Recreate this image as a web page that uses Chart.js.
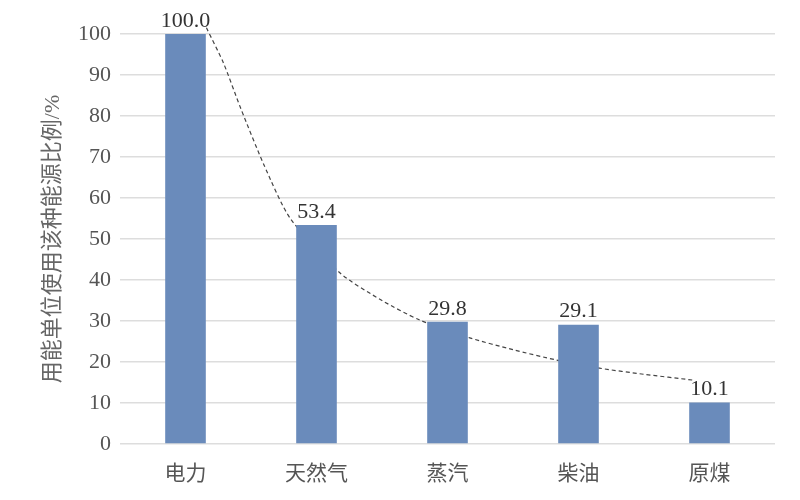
<!DOCTYPE html>
<html>
<head>
<meta charset="utf-8">
<script src="https://cdn.jsdelivr.net/npm/chart.js@4/dist/chart.umd.min.js"></script>
<style>
  html, body { margin: 0; padding: 0; background: #ffffff; }
  #wrap { width: 800px; height: 500px; }
</style>
</head>
<body>
<div id="wrap"><canvas id="chart" width="800" height="500"></canvas></div>
<script>
const categories = [`电力`, `天然气`, `蒸汽`, `柴油`, `原煤`];
const shares = [100.0, 53.4, 29.8, 29.1, 10.1];
const yTicks = [0, 10, 20, 30, 40, 50, 60, 70, 80, 90, 100];

// dashed trend curve (x = category index)
const trendX = [0.16, 0.29, 0.42, 0.60, 0.80, 1.18, 1.50, 1.79, 2.17, 2.50, 2.83, 3.16, 3.50, 3.87];
const trendY = [101.5, 92.9, 82.0, 68.0, 55.0, 41.7, 35.0, 30.2, 25.9, 23.0, 20.5, 18.5, 17.0, 15.6];

const SERIF = `"Liberation Serif", "Noto Sans CJK SC", serif`;

const barLabels = {
  id: `barLabels`,
  afterDatasetsDraw(chart) {
    const ctx = chart.ctx;
    const meta = chart.getDatasetMeta(0);
    ctx.save();
    ctx.font = `22px ${SERIF}`;
    ctx.fillStyle = `#333333`;
    ctx.textAlign = `center`;
    ctx.textBaseline = `bottom`;
    meta.data.forEach((bar, i) => {
      ctx.fillText(shares[i].toFixed(1), bar.x, bar.y - 2);
    });
    ctx.restore();
  }
};

new Chart(document.getElementById(`chart`), {
  plugins: [barLabels],
  data: {
    labels: categories,
    datasets: [{
      type: `bar`,
      data: shares,
      backgroundColor: `#6a8bbb`,
      barPercentage: 0.31,
      categoryPercentage: 1,
      grouped: false,
      order: 1,
    }, {
      type: `line`,
      data: trendX.map((x, i) => ({x, y: trendY[i]})),
      xAxisID: `xt`,
      borderColor: `#444444`,
      borderWidth: 1.2,
      borderDash: [4, 3],
      pointRadius: 0,
      tension: 0.25,
      fill: false,
      clip: {left: 0, right: 0, top: 8, bottom: 0},
      order: 2,
    }]
  },
  options: {
    responsive: false,
    animation: false,
    layout: {
      padding: {top: 34, right: 25, left: 0, bottom: 0}
    },
    plugins: {
      legend: {display: false},
      tooltip: {enabled: false},
    },
    scales: {
      x: {
        type: `category`,
        grid: {display: false},
        border: {display: false},
        ticks: {
          color: `#555555`,
          padding: 10,
          font: {family: SERIF, size: 21},
        },
        afterFit: (scale) => { scale.height = 56; },
      },
      xt: {
        type: `linear`,
        display: false,
        min: -0.5,
        max: 4.5,
      },
      y: {
        min: 0,
        max: 100,
        afterBuildTicks: (scale) => { scale.ticks = yTicks.map((v) => ({value: v})); },
        grid: {
          color: `#dddddd`,
          lineWidth: 1.5,
          drawTicks: false,
        },
        border: {display: false},
        ticks: {
          color: `#555555`,
          padding: 9,
          font: {family: SERIF, size: 22},
        },
        title: {
          display: true,
          text: `用能单位使用该种能源比例/%`,
          color: `#666666`,
          font: {family: SERIF, size: 22},
          padding: {top: 40, bottom: 0},
        },
        afterFit: (scale) => { scale.width = 120; },
      }
    }
  }
});
</script>
</body>
</html>
